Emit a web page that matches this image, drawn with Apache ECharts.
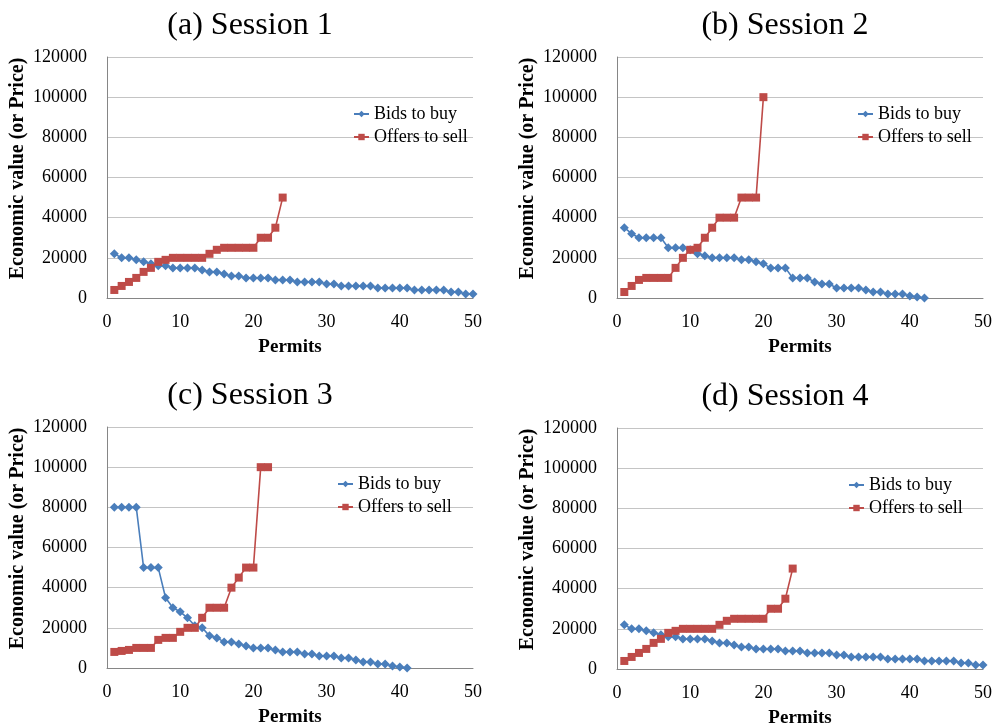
<!DOCTYPE html>
<html>
<head>
<meta charset="utf-8">
<script src="https://cdn.jsdelivr.net/npm/echarts@6/dist/echarts.min.js"></script>
<style>
  html, body { margin: 0; padding: 0; background: #fff; }
</style>
</head>
<body>
<div id="myChart" style="width: 996px; height: 723px;"></div>
<script>
// panel titles
var titles = ['(a) Session 1', '(b) Session 2', '(c) Session 3', '(d) Session 4']
var seriesNames = ['Bids to buy', 'Offers to sell']

// Session 1 (and Session 4, same numbers)
var bids1 = [22000, 20000, 20000, 19000, 18000, 17000, 16000, 16000, 15000, 15000,
  15000, 15000, 14000, 13000, 13000, 12000, 11000, 11000, 10000, 10000,
  10000, 10000, 9000, 9000, 9000, 8000, 8000, 8000, 8000, 7000,
  7000, 6000, 6000, 6000, 6000, 6000, 5000, 5000, 5000, 5000,
  5000, 4000, 4000, 4000, 4000, 4000, 3000, 3000, 2000, 2000]
var offers1 = [4000, 6000, 8000, 10000, 13000, 15000, 18000, 19000, 20000, 20000,
  20000, 20000, 20000, 22000, 24000, 25000, 25000, 25000, 25000, 25000,
  30000, 30000, 35000, 50000]

// Session 2
var bids2 = [35000, 32000, 30000, 30000, 30000, 30000, 25000, 25000, 25000, 24000,
  22000, 21000, 20000, 20000, 20000, 20000, 19000, 19000, 18000, 17000,
  15000, 15000, 15000, 10000, 10000, 10000, 8000, 7000, 7000, 5000,
  5000, 5000, 5000, 4000, 3000, 3000, 2000, 2000, 2000, 1000,
  500, 0]
var offers2 = [3000, 6000, 9000, 10000, 10000, 10000, 10000, 15000, 20000, 24000,
  25000, 30000, 35000, 40000, 40000, 40000, 50000, 50000, 50000, 100000]

// Session 3
var bids3 = [80000, 80000, 80000, 80000, 50000, 50000, 50000, 35000, 30000, 28000,
  25000, 21000, 20000, 16000, 15000, 13000, 13000, 12000, 11000, 10000,
  10000, 10000, 9000, 8000, 8000, 8000, 7000, 7000, 6000, 6000,
  6000, 5000, 5000, 4000, 3000, 3000, 2000, 2000, 1000, 500,
  0]
var offers3 = [8000, 8500, 9000, 10000, 10000, 10000, 14000, 15000, 15000, 18000,
  20000, 20000, 25000, 30000, 30000, 30000, 40000, 45000, 50000, 50000,
  100000, 100000]

// Session 4
var bids4 = bids1.slice()
var offers4 = offers1.slice()

var xTicks = { min: 0, max: 50, interval: 10 }
var yTicks = { min: 0, max: 120000, interval: 20000 }

var bidsAll = [bids1, bids2, bids3, bids4]
var offersAll = [offers1, offers2, offers3, offers4]

var font = 'Liberation Serif'
var blue = '#4a7ebb'
var red = '#be4b48'

// plot boxes
var panels = [
  { left: 107, top: 57, titleX: 245, titleY: 5, legendX: 348, legendY: 100 },
  { left: 617, top: 57, titleX: 780, titleY: 5, legendX: 852, legendY: 100 },
  { left: 107, top: 427, titleX: 245, titleY: 375, legendX: 332, legendY: 470 },
  { left: 617, top: 428, titleX: 780, titleY: 376, legendX: 843, legendY: 471 }
]

function pairs (arr) {
  return arr.map(function (v, i) { return [i + 1, v] })
}

var option = {
  animation: false,
  backgroundColor: '#fff',
  textStyle: { fontFamily: font },
  title: [],
  legend: [],
  grid: [],
  xAxis: [],
  yAxis: [],
  series: []
}

panels.forEach(function (p, k) {
  option.title.push({
    text: titles[k],
    left: p.titleX,
    top: p.titleY,
    textAlign: 'center',
    textStyle: { fontFamily: font, fontSize: 32, fontWeight: 'normal', color: '#000' }
  })
  option.legend.push({
    data: seriesNames,
    orient: 'vertical',
    left: p.legendX,
    top: p.legendY,
    itemWidth: 15,
    itemHeight: 8,
    itemGap: 5,
    textStyle: { fontFamily: font, fontSize: 18, color: '#000' }
  })
  option.grid.push({
    left: p.left,
    top: p.top,
    width: 366,
    height: 241,
    outerBoundsMode: 'none'
  })
  option.xAxis.push({
    type: 'value',
    gridIndex: k,
    min: xTicks.min,
    max: xTicks.max,
    interval: xTicks.interval,
    name: 'Permits',
    nameLocation: 'middle',
    nameGap: 40,
    nameTextStyle: { fontFamily: font, fontSize: 19, fontWeight: 'bold', color: '#000' },
    axisLine: { show: true, lineStyle: { color: '#868686', width: 1 } },
    axisTick: { show: false },
    splitLine: { show: false },
    axisLabel: { fontFamily: font, fontSize: 18, color: '#000', margin: 15 }
  })
  option.yAxis.push({
    type: 'value',
    gridIndex: k,
    min: yTicks.min,
    max: yTicks.max,
    interval: yTicks.interval,
    name: 'Economic value (or Price)',
    nameLocation: 'middle',
    nameGap: 79,
    nameTextStyle: { fontFamily: font, fontSize: 20, fontWeight: 'bold', color: '#000', padding: [0, 0, 0, 18] },
    axisLine: { show: true, lineStyle: { color: '#868686', width: 1 } },
    axisTick: { show: false },
    splitLine: { show: true, lineStyle: { color: '#c4c4c4', width: 1 } },
    axisLabel: {
      fontFamily: font,
      fontSize: 18,
      color: '#000',
      margin: 20,
      formatter: function (v) { return String(v) }
    }
  })
  option.series.push({
    name: seriesNames[0],
    type: 'line',
    xAxisIndex: k,
    yAxisIndex: k,
    data: pairs(bidsAll[k]),
    symbol: 'diamond',
    symbolSize: 9,
    itemStyle: { color: blue },
    lineStyle: { color: blue, width: 1.6 }
  })
  option.series.push({
    name: seriesNames[1],
    type: 'line',
    xAxisIndex: k,
    yAxisIndex: k,
    data: pairs(offersAll[k]),
    symbol: 'rect',
    symbolSize: 8,
    itemStyle: { color: red },
    lineStyle: { color: red, width: 1.6 }
  })
})

var myChart = echarts.init(document.getElementById('myChart'))
myChart.setOption(option)
</script>
</body>
</html>
